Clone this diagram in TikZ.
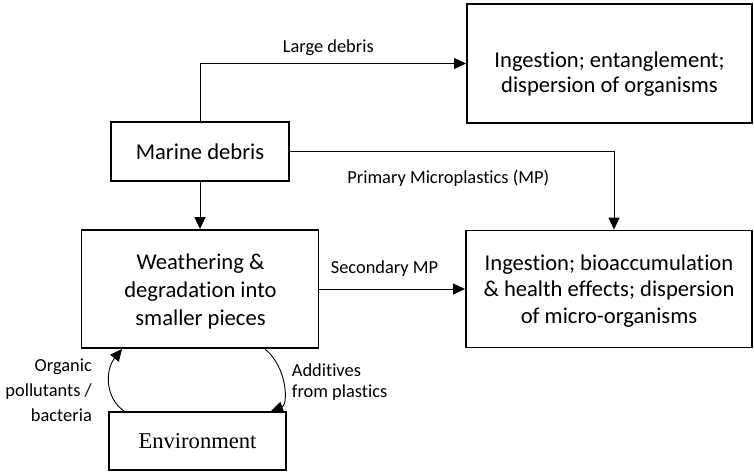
\documentclass[tikz,border=0pt]{standalone}
\usepackage{fontspec}
\setmainfont{Carlito}[Ligatures=NoCommon]
\newfontfamily\envfont{Liberation Serif}
\usetikzlibrary{arrows.meta}
\begin{document}
\begin{tikzpicture}[x=1pt,y=-1pt,
  box/.style={draw, line width=1.9pt, inner sep=0pt},
  boxfont/.style={font=\fontsize{22.6}{#1}\selectfont},
  % multi-line texts are anchored at the baseline of their last line
  boxtext/.style={boxfont=#1, align=center, anchor=base, inner sep=0pt},
  lbl/.style={font=\fontsize{18.4}{#1}\selectfont, anchor=base, inner sep=0pt},
  conn/.style={line width=0.9pt, -{Triangle[length=12pt,width=11pt]}},
]
\useasboundingbox (0,0) rectangle (754,473);

% boxes
\node[box, minimum width=285pt, minimum height=119pt] (harm) at (609.5,63.5) {};
\node[box, boxfont=25, minimum width=178pt, minimum height=59pt] (debris) at (200,151.5) {Marine debris};
\node[box, minimum width=237pt, minimum height=118pt] (weather) at (200,289) {};
\node[box, minimum width=286pt, minimum height=117pt] (micro) at (609,289) {};
\node[box, font=\envfont\fontsize{22.6}{25}\selectfont, minimum width=177pt, minimum height=58pt] (env) at (197.5,441) {Environment};

% box texts
\node[boxtext=25] (harmtxt) at (609.5,92.7) {Ingestion; entanglement;\\dispersion of organisms};
\node[boxtext=28.2] (weathertxt) at (200.5,325.7) {Weathering \&\\degradation into\\smaller pieces};
\node[boxtext=26.5] (microtxt) at (609,323) {Ingestion; bioaccumulation\\\& health effects; dispersion\\of micro-organisms};

% connectors
\draw[conn] (debris.north) |- (harm.west);
\draw[conn] (debris.east) -| ([xshift=5pt]micro.north);
\draw[conn] (debris.south) -- (weather.north);
\draw[conn] (weather.east) -- (micro.west);
\draw[conn] ([xshift=16pt]env.north west) .. controls (105,398) and (105,370) .. ([xshift=41.5pt]weather.south west);
\draw[conn] ([xshift=-54.5pt]weather.south east) .. controls (288,368) and (288,405) .. ([xshift=-16pt]env.north east);

% connector labels
\node[lbl=22] (largelbl) at (328.3,52.7) {Large debris};
\node[lbl=22] (primarylbl) at (448.3,183) {Primary Microplastics (MP)};
\node[lbl=22] (secondarylbl) at (384.5,273) {Secondary MP};
\node[lbl=25, anchor=base east, align=right] (organiclbl) at (92,421.7) {Organic\\pollutants /\\bacteria};
\node[lbl=21.5, anchor=base west, align=left] (additivelbl) at (291.7,397.7) {Additives\\from plastics};
\end{tikzpicture}
\end{document}
